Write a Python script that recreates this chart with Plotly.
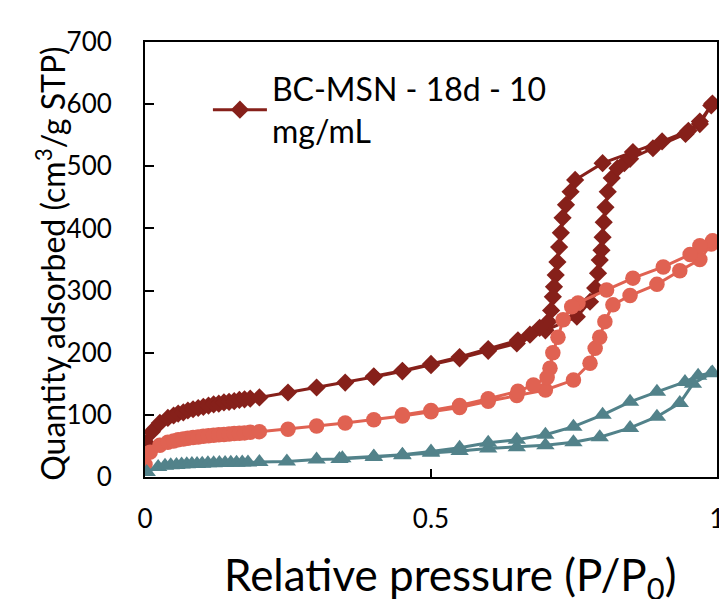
import plotly.graph_objects as go

# ---- data (relative pressure P/P0, quantity adsorbed cm3/g STP) ----
# BC-MSN - 18d - 10 mg/mL (dark red diamonds): adsorption then desorption
red_p = [0.002, 0.012, 0.026, 0.040, 0.050, 0.058, 0.067, 0.075, 0.084, 0.093,
         0.102, 0.111, 0.120, 0.129, 0.138, 0.147, 0.156, 0.165, 0.174, 0.184,
         0.200, 0.250, 0.300, 0.350, 0.400, 0.450, 0.500, 0.550, 0.600, 0.650,
         0.700, 0.755, 0.778, 0.787, 0.792, 0.795, 0.798, 0.800, 0.802, 0.805,
         0.809, 0.816, 0.826, 0.838, 0.848, 0.888, 0.945, 0.970, 0.990,
         0.992, 0.970, 0.950, 0.904, 0.853, 0.800, 0.752, 0.744, 0.736, 0.730,
         0.727, 0.724, 0.721, 0.718, 0.715, 0.713, 0.710, 0.705, 0.690, 0.673,
         0.652, 0.600, 0.550, 0.500, 0.450, 0.400]
red_q = [55, 73, 87, 95, 99, 102, 104, 107, 109, 111,
         113, 115, 117, 118, 120, 121, 122, 124, 125, 126,
         128, 136, 144, 152, 161, 170, 180, 191, 203, 215,
         236, 258, 282, 304, 328, 349, 365, 386, 410, 434,
         459, 481, 497, 505, 512, 529, 552, 568, 598,
         601, 572, 557, 540, 523, 505, 478, 459, 438, 417,
         393, 370, 346, 325, 306, 290, 268, 250, 240, 229,
         220, 206, 193, 182, 171, 162]

# salmon circles
sal_p = [0.000, 0.009, 0.026, 0.040, 0.050, 0.058, 0.067, 0.075, 0.084, 0.093,
         0.102, 0.111, 0.120, 0.129, 0.138, 0.147, 0.156, 0.165, 0.174, 0.184,
         0.200, 0.250, 0.300, 0.350, 0.400, 0.450, 0.500, 0.550, 0.600, 0.650,
         0.700, 0.749, 0.778, 0.787, 0.795, 0.804, 0.818, 0.848, 0.895, 0.935,
         0.970, 0.990,
         0.992, 0.970, 0.953, 0.906, 0.853, 0.807, 0.757, 0.746, 0.731, 0.722,
         0.713, 0.708, 0.703, 0.679, 0.652, 0.600, 0.550, 0.500, 0.450]
sal_q = [20, 40, 51, 56, 58, 60, 61, 62.5, 63.5, 64.5,
         65.5, 66.5, 67, 68, 68.5, 69, 70, 70.5, 71, 72,
         73, 77, 82, 87, 92, 98, 105, 112, 122, 131,
         140, 156, 183, 207, 225, 250, 277, 292, 310, 332,
         350, 375,
         380, 372, 358, 338, 320, 301, 280, 274, 253, 225,
         200, 175, 160, 148, 138, 126, 115, 107, 100]

# teal triangles
teal_p = [0.003, 0.023, 0.035, 0.045, 0.055, 0.064, 0.073, 0.082, 0.091, 0.100,
          0.110, 0.120, 0.130, 0.140, 0.150, 0.160, 0.170, 0.180, 0.200, 0.248,
          0.300, 0.340, 0.400, 0.450, 0.500, 0.550, 0.600, 0.650, 0.700, 0.749,
          0.795, 0.848, 0.895, 0.935, 0.958, 0.990,
          0.992, 0.967, 0.944, 0.895, 0.848, 0.800, 0.749, 0.700, 0.650, 0.600,
          0.550, 0.500, 0.450, 0.400, 0.345]
teal_q = [8, 16, 18, 19, 19.5, 20, 20.5, 21, 21, 21.5,
          22, 22, 22.5, 22.5, 23, 23, 23.5, 23.5, 24, 25,
          28, 29, 32, 35, 39, 42, 46, 48, 51, 56,
          64, 79, 97, 119, 150, 167,
          168, 163, 153, 137, 121, 100, 81, 68, 60, 55,
          47, 41, 36, 33, 30]

x_ticks = [0, 0.5, 1]
x_ticklabels = ["0", "0.5", "1"]
y_ticks = [0, 100, 200, 300, 400, 500, 600, 700]

RED = "#86201A"
SAL = "#E06252"
TEAL = "#52828A"
FONT = "Lato"

fig = go.Figure()
fig.add_trace(go.Scatter(x=red_p, y=red_q, mode="lines+markers",
                         name="BC-MSN - 18d - 10<br>mg/mL",
                         line=dict(color=RED, width=3),
                         marker=dict(symbol="diamond", size=14, color=RED)))
fig.add_trace(go.Scatter(x=sal_p, y=sal_q, mode="lines+markers", showlegend=False,
                         line=dict(color=SAL, width=3),
                         marker=dict(symbol="circle", size=15.5, color=SAL)))
fig.add_trace(go.Scatter(x=teal_p, y=teal_q, mode="lines+markers", showlegend=False,
                         line=dict(color=TEAL, width=3),
                         marker=dict(symbol="triangle-up", size=16, color=TEAL)))

fig.update_layout(
    width=719, height=599,
    margin=dict(l=145, r=2, t=42, b=122),
    paper_bgcolor="white", plot_bgcolor="white",
    font=dict(family=FONT, size=26, color="black"),
    showlegend=True,
    legend=dict(x=0.11, y=0.955, xanchor="left", yanchor="top",
                bgcolor="rgba(0,0,0,0)", font=dict(size=32, family=FONT),
                itemwidth=54, tracegroupgap=0),
    xaxis=dict(range=[0, 1], tickvals=x_ticks, ticktext=x_ticklabels,
               ticks="inside", ticklen=8, tickwidth=2, tickcolor="black",
               showline=True, linecolor="black", linewidth=2, mirror=True,
               showgrid=False, zeroline=False, ticklabelstandoff=18,
               automargin=False, ticklabeloverflow="allow",
               tickfont=dict(size=26, family=FONT)),
    yaxis=dict(range=[0, 700], tickvals=y_ticks,
               ticks="inside", ticklen=9, tickwidth=2, tickcolor="black",
               showline=True, linecolor="black", linewidth=2, mirror=True,
               showgrid=False, zeroline=False, ticklabelstandoff=26,
               automargin=False, ticklabeloverflow="allow",
               tickfont=dict(size=26, family=FONT)),
    annotations=[
        dict(text="Quantity adsorbed (cm<sup>3</sup>/g STP)", textangle=-90,
             xref="paper", yref="paper", x=-0.1645, y=0.49,
             xanchor="center", yanchor="middle", showarrow=False,
             font=dict(size=32, family=FONT)),
        dict(text="Relative pressure (P/P<sub>0</sub>)",
             xref="paper", yref="paper", x=0.533, y=-0.232,
             xanchor="center", yanchor="middle", showarrow=False,
             font=dict(size=44, family=FONT)),
    ],
)

fig.write_html("out.html",
               config={"displayModeBar": False},
               post_script="document.body.style.margin='0';"
                           "document.body.style.overflow='hidden';")
